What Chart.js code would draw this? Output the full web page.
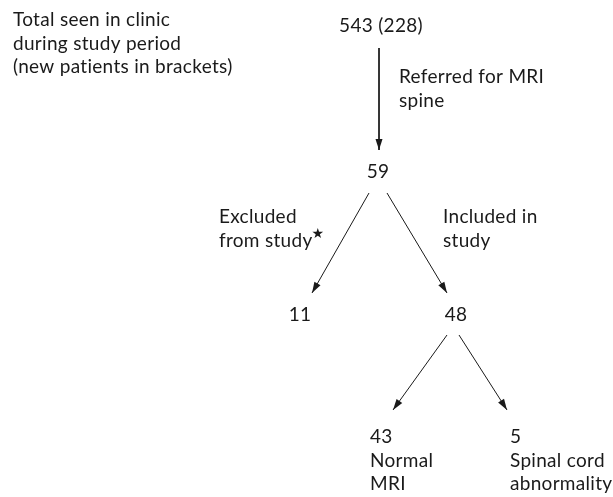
<!DOCTYPE html>
<html>
<head>
<meta charset="utf-8">
<script src="https://cdn.jsdelivr.net/npm/chart.js@4.4.1/dist/chart.umd.min.js"></script>
<style>
    body { margin: 0; background: #ffffff; }
    #fluxo { display: block; }
</style>
</head>
<body>
<canvas id="fluxo" width="613" height="497"></canvas>
<script>
// valores do fluxograma
const totalClinica = 543;
const novosPacientes = 228;
const contagens = [59, 11, 48, 43, 5];
const tituloEsquerda = ["Total seen in clinic", "during study period", "(new patients in brackets)"];
const rotulosSetas = [
    ["Referred for MRI", "spine"],
    ["Excluded", "from study"],
    ["Included in", "study"]
];
const rotulosFinais = [["Normal", "MRI"], ["Spinal cord", "abnormality"]];

// layout (unidades da escala = pixels da figura)
let posNos = [
    { x: 381, y: 26, alinhar: "center" },   // 543 (228)
    { x: 378, y: 172, alinhar: "center" },  // 59
    { x: 300, y: 315, alinhar: "center" },  // 11
    { x: 456, y: 315, alinhar: "center" },  // 48
    { x: 370, y: 437, alinhar: "left" },    // 43
    { x: 510, y: 437, alinhar: "left" }     // 5
];
let setas = [
    [{ x: 379, y: 48 }, { x: 379, y: 150 }],
    [{ x: 369, y: 193 }, { x: 312, y: 293 }],
    [{ x: 387, y: 193 }, { x: 447, y: 293 }],
    [{ x: 447, y: 335 }, { x: 393, y: 410 }],
    [{ x: 459, y: 335 }, { x: 507, y: 410 }]
];
let posRotulosSetas = [
    { x: 399, y: 77 },
    { x: 219, y: 217 },
    { x: 443, y: 217 }
];

let fonte = "19px Lato";
let corTexto = "#1a1a1a";
let alturaLinha = 23.5;

let datasets = [];
for (let i = 0; i < setas.length; i++) {
    datasets.push({
        data: setas[i],
        showLine: true,
        borderColor: "#1a1a1a",
        borderWidth: 1,
        pointRadius: 0
    });
}

function escreverLinhas(ctx, sx, sy, linhas, x, y, alinhar) {
    ctx.textAlign = alinhar;
    for (let i = 0; i < linhas.length; i++) {
        ctx.fillText(linhas[i], sx.getPixelForValue(x), sy.getPixelForValue(y + i * alturaLinha));
    }
}

const pluginFluxo = {
    id: "fluxo",
    afterDatasetsDraw(chart) {
        let ctx = chart.ctx;
        let sx = chart.scales.x;
        let sy = chart.scales.y;
        ctx.save();

        // pontas das setas
        ctx.fillStyle = "#1a1a1a";
        for (let i = 0; i < setas.length; i++) {
            let a = setas[i][0];
            let b = setas[i][1];
            let x1 = sx.getPixelForValue(a.x), y1 = sy.getPixelForValue(a.y);
            let x2 = sx.getPixelForValue(b.x), y2 = sy.getPixelForValue(b.y);
            let ang = Math.atan2(y2 - y1, x2 - x1);
            let comp = 11, larg = 3.5;
            ctx.beginPath();
            ctx.moveTo(x2, y2);
            ctx.lineTo(x2 - comp * Math.cos(ang) + larg * Math.sin(ang), y2 - comp * Math.sin(ang) - larg * Math.cos(ang));
            ctx.lineTo(x2 - comp * Math.cos(ang) - larg * Math.sin(ang), y2 - comp * Math.sin(ang) + larg * Math.cos(ang));
            ctx.closePath();
            ctx.fill();
        }

        // textos
        ctx.fillStyle = corTexto;
        ctx.font = fonte;
        ctx.letterSpacing = "0.3px";
        ctx.textBaseline = "middle";

        escreverLinhas(ctx, sx, sy, tituloEsquerda, 13, 20, "left");

        let textosNos = [totalClinica + " (" + novosPacientes + ")"];
        for (let i = 0; i < contagens.length; i++) {
            textosNos.push(String(contagens[i]));
        }
        for (let i = 0; i < posNos.length; i++) {
            let linhas = [textosNos[i]];
            if (i >= 4) {
                linhas = linhas.concat(rotulosFinais[i - 4]);
            }
            escreverLinhas(ctx, sx, sy, linhas, posNos[i].x, posNos[i].y, posNos[i].alinhar);
        }

        for (let i = 0; i < rotulosSetas.length; i++) {
            escreverLinhas(ctx, sx, sy, rotulosSetas[i], posRotulosSetas[i].x, posRotulosSetas[i].y, "left");
        }

        // estrela do "from study"
        ctx.textAlign = "left";
        let larguraStudy = ctx.measureText(rotulosSetas[1][1]).width;
        ctx.font = "14px DejaVu Sans";
        ctx.letterSpacing = "0px";
        ctx.fillText("\u2605", sx.getPixelForValue(posRotulosSetas[1].x) + larguraStudy - 1, sy.getPixelForValue(posRotulosSetas[1].y + alturaLinha - 6));

        ctx.restore();
    }
};

new Chart(document.getElementById("fluxo"), {
    type: "scatter",
    data: { datasets: datasets },
    options: {
        responsive: false,
        animation: false,
        layout: { padding: 0 },
        plugins: {
            legend: { display: false },
            tooltip: { enabled: false }
        },
        scales: {
            x: { type: "linear", min: 0, max: 613, display: false },
            y: { type: "linear", min: 0, max: 497, reverse: true, display: false }
        }
    },
    plugins: [pluginFluxo]
});
</script>
</body>
</html>
